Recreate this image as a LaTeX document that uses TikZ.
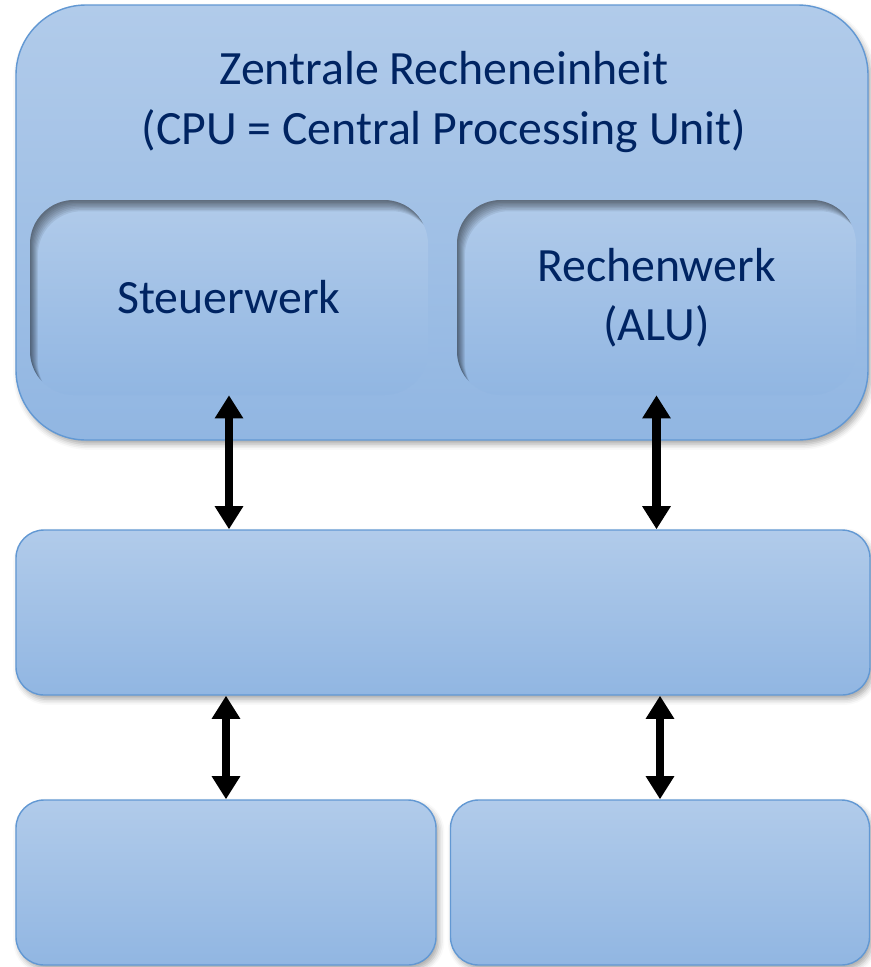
\documentclass[tikz,border=0pt]{standalone}
\usepackage{fontspec}
\setmainfont{Carlito}
\usetikzlibrary{positioning,arrows.meta,calc,shadows.blur}
\definecolor{cpuTop}{RGB}{177,203,234}
\definecolor{cpuBottom}{RGB}{145,182,226}
\definecolor{cpuBorder}{RGB}{98,152,211}
\definecolor{cpuText}{RGB}{0,36,98}

\begin{document}
\begin{tikzpicture}[
    big text/.style={font=\fontsize{34}{42}\selectfont, text=cpuText, align=center},
    unit box/.style={rectangle, rounded corners=#1, draw=cpuBorder, line width=1pt,
      top color=cpuTop, bottom color=cpuBottom, inner sep=0pt,
      blur shadow={shadow xshift=2pt, shadow yshift=-3pt, shadow blur radius=4pt, shadow opacity=35}},
    unit box/.default=0.7cm,
    inner box/.style={rectangle, rounded corners=1.1cm, top color=cpuTop, bottom color=cpuBottom,
      inner sep=0pt, big text,
      path picture={
        \foreach \s in {1,...,8}
          \fill[black, opacity=0.07, even odd rule, rounded corners=1.1cm]
            ([shift={(-1,1)}]path picture bounding box.north west) rectangle
            ([shift={(1,-1)}]path picture bounding box.south east)
            ([shift={({0.7*\s*1pt},{-\s*1pt})}]path picture bounding box.north west) rectangle
            ([shift={({0.7*\s*1pt},{-\s*1pt})}]path picture bounding box.south east);
      }},
    data link/.style={draw=black, line width=6.2pt,
      {Triangle[width=0.68cm,length=0.58cm]}-{Triangle[width=0.68cm,length=0.58cm]}}
]
  \useasboundingbox (0,0) rectangle (21.775,-24.175);

  % CPU with its two units
  \node[unit box=1.75cm, minimum width=21.3cm, minimum height=10.875cm] (cpu) at (11.05,-5.5625) {};
  \node[big text] (cpuTitle) at (11.1,-2.55) {Zentrale Recheneinheit\\(CPU = Central Processing Unit)};
  \node[inner box, minimum width=9.95cm, minimum height=4.875cm] (steuer) at (5.725,-7.4375) {Steuerwerk};
  \node[inner box, minimum width=9.975cm, minimum height=4.875cm] (rechen) at (16.4125,-7.4375) {Rechenwerk\\(ALU)};

  % bus and the two lower units
  \node[unit box, minimum width=21.35cm, minimum height=4.125cm] (bus) at (11.075,-15.3125) {};
  \node[unit box, minimum width=10.5cm, minimum height=4.125cm] (speicher) at (5.65,-22.0625) {};
  \node[unit box, minimum width=10.475cm, minimum height=4.125cm] (io) at (16.5,-22.0625) {};

  \draw[data link] (steuer.south) -- (steuer.south |- bus.north);
  \draw[data link] (rechen.south) -- (rechen.south |- bus.north);
  \draw[data link] (bus.south -| speicher.north) -- (speicher.north);
  \draw[data link] (bus.south -| io.north) -- (io.north);
\end{tikzpicture}
\end{document}
